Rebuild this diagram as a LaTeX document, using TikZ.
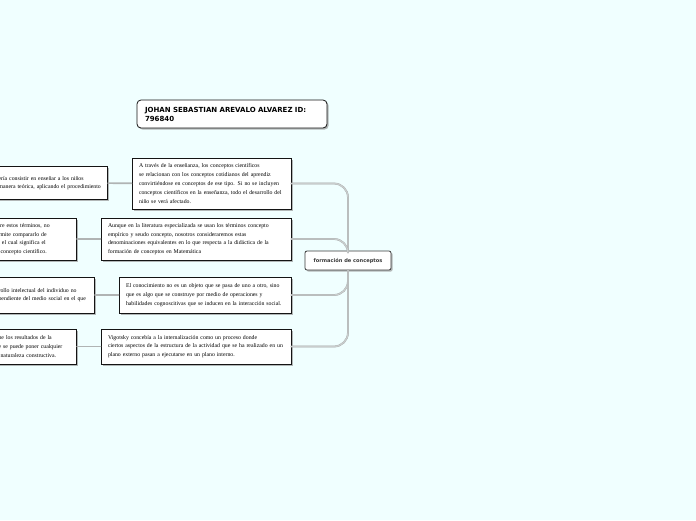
\documentclass[tikz,border=0pt]{standalone}
\usepackage{fontspec}
\setmainfont{Liberation Serif}
\newfontfamily\headfont{DejaVu Sans}
\usetikzlibrary{shadows}
\definecolor{paper}{HTML}{F0FFFF}
\definecolor{ink}{HTML}{141414}
\definecolor{hubink}{HTML}{3A3A3A}
\definecolor{branchgray}{HTML}{C9CDCD}
\definecolor{branchshade}{HTML}{A0A4A4}
\definecolor{linkgray}{HTML}{B0B4B4}

\begin{document}
\begin{tikzpicture}[
  x=1pt, y=-1pt,
  every path/.style={line cap=round},
  note/.style={rectangle, draw=ink, line width=.8pt, fill=white, inner xsep=7pt, inner ysep=2pt,
    align=left, font=\fontsize{5.8}{8.8}\selectfont,
    drop shadow={shadow xshift=1.6pt, shadow yshift=-1.6pt, fill=black!40, opacity=.7}},
  cut/.style={note, inner xsep=6pt, anchor=east},
  title/.style={note, rounded corners=4pt, inner xsep=8pt, font=\headfont\bfseries\fontsize{7}{9}\selectfont},
  hub/.style={note, draw=hubink, rounded corners=2pt, text=hubink, align=center,
    font=\headfont\bfseries\fontsize{5.1}{6}\selectfont},
  branch/.style={branchgray, line width=1.3pt, rounded corners=14pt},
  shade/.style={branchshade, line width=1.8pt, rounded corners=14pt, xshift=2pt},
  link/.style={linkgray, line width=1.6pt},
]
\useasboundingbox[fill=paper] (0,0) rectangle (696,520);

% ---------- title ----------
\node[title, text width=174pt, minimum height=28pt] (name) at (232,114)
  {JOHAN SEBASTIAN AREVALO ALVAREZ ID:\\796840};

% ---------- central topic ----------
\node[hub, minimum width=86pt, minimum height=19pt] (hub) at (348,260.5) {formación de conceptos};

% ---------- right column ----------
\node[note, text width=145pt, minimum height=51pt] (r1) at (211.5,183.5)
  {A través de la enseñanza, los conceptos científicos\\
   se relacionan con los conceptos cotidianos del aprendiz\\
   convirtiéndose en conceptos de ese tipo. Si no se incluyen\\
   conceptos científicos en la enseñanza, todo el desarrollo del\\
   niño se verá afectado.};
\node[note, text width=176pt, minimum height=42pt] (r2) at (196,239)
  {Aunque en la literatura especializada se usan los términos concepto\\
   empírico y seudo concepto, nosotros consideraremos estas\\
   denominaciones equivalentes en lo que respecta a la didáctica de la\\
   formación de conceptos en Matemática};
\node[note, text width=158pt, minimum height=36pt] (r3) at (205,295)
  {El conocimiento no es un objeto que se pasa de uno a otro, sino\\
   que es algo que se construye por medio de operaciones y\\
   habilidades cognoscitivas que se inducen en la interacción social.};
\node[note, text width=176pt, minimum height=35pt] (r4) at (196,346.5)
  {Vigotsky concebía a la internalización como un proceso donde\\
   ciertos aspectos de la estructura de la actividad que se ha realizado en un\\
   plano externo pasan a ejecutarse en un plano interno.};

% ---------- left column (cut by the page edge) ----------
\node[cut, text width=103pt, minimum height=33pt] (l1) at (108,183)
  {ería consistir en enseñar a los niños\\
   manera teórica, aplicando el procedimiento};
\node[cut, text width=72pt, minimum height=42pt] (l2) at (77,239)
  {tre estos términos, no\\
   rmite compararlo de\\
   , el cual significa el\\
   \ concepto científico.};
\node[cut, text width=90pt, minimum height=36pt] (l3) at (95,295)
  {rollo intelectual del individuo no\\
   pendiente del medio social en el que};
\node[cut, text width=72pt, minimum height=35pt] (l4) at (77,346.5)
  {ne los resultados de la\\
   e se puede poner cualquier\\
   \ naturaleza constructiva.};

% ---------- branches ----------
\foreach \a/\r in {north/r1, north/r2, south/r3, south/r4} {
  \draw[shade] (hub.\a) |- (\r.east);
  \draw[branch] (hub.\a) |- (\r.east);
}
\foreach \r/\l in {r1/l1, r2/l2, r3/l3, r4/l4}
  \draw[link] (\r) -- (\l);

\end{tikzpicture}
\end{document}
